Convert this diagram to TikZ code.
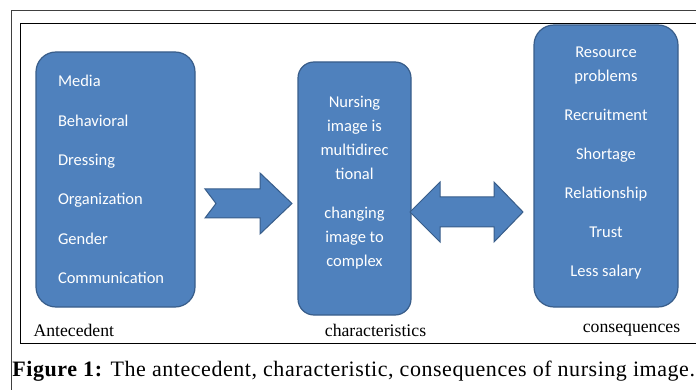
\documentclass[tikz,border=0pt]{standalone}
\usepackage{tikz}
\usepackage{xcolor}
\usepackage{fontspec}
\newfontfamily\boxfont{Carlito}
\newfontfamily\labelfont{Liberation Serif}
\newfontfamily\captionfont[LetterSpace=2.5]{Liberation Serif}
\definecolor{boxblue}{HTML}{4F81BD}
\definecolor{boxedge}{HTML}{385D8A}
\tikzset{
  bluebox/.style={draw=boxedge, fill=boxblue, line width=1.2pt, rounded corners=20pt,
    text=white, font=\boxfont\fontsize{16.5}{24}\selectfont, inner sep=0pt},
  boxtext/.style={text=white, font=\boxfont\fontsize{16.5}{24}\selectfont, inner sep=0pt,
    align=center},
  blockarrow/.style={draw=boxedge, fill=boxblue, line width=1pt},
  partlabel/.style={font=\labelfont\fontsize{17.7}{19}\selectfont, inner sep=0pt}
}

\begin{document}
\begin{tikzpicture}[x=1pt, y=-1pt, line width=1pt]
  \useasboundingbox (0,0) rectangle (696,390);
  % frames
  \draw[black!75] (11,400) -- (11,11) -- (710,11);
  \draw[black] (710,24) -- (20,24) -- (20,343) -- (710,343);
  % antecedent
  \node[bluebox, minimum width=159pt, minimum height=255pt, align=left, text width=115pt,
        font=\boxfont\fontsize{16.5}{39.4}\selectfont] (ante) at (115.5,179.5)
    {Media\\Behavioral\\Dressing\\Organization\\Gender\\Communication};
  \node[partlabel, anchor=west] (antelabel) at (33,330) {Antecedent};
  % characteristics
  \node[bluebox, rounded corners=16pt, minimum width=113pt, minimum height=253pt] (chara)
    at (354.5,188.5) {};
  \node[boxtext] (charatext) at (354.5,182.5)
    {Nursing\\image is\\multidirec\\tional\\[15pt]changing\\image to\\complex};
  \node[partlabel] (charalabel) at (375.5,330) {characteristics};
  % consequences
  \node[bluebox, minimum width=144pt, minimum height=282pt] (conse) at (606,166) {};
  \node[boxtext] (consetext) at (606,163)
    {Resource\\problems\\[15pt]Recruitment\\[15pt]Shortage\\[15pt]Relationship\\[15pt]Trust\\[15pt]Less salary};
  \node[partlabel] (conselabel) at (631.5,330) {consequences};
  % arrows
  \draw[blockarrow] (205,189) -- (260,189) -- (260,173) -- (292,203.5) -- (260,234)
        -- (260,218) -- (205,218) -- (216,203.5) -- cycle;
  \draw[blockarrow] (410,212) -- (440,182) -- (440,197) -- (494,197) -- (494,182)
        -- (523,212) -- (494,242) -- (494,227) -- (440,227) -- (440,242) -- cycle;
  % caption
  \node[anchor=west, inner sep=0pt, font=\captionfont\fontsize{22}{24}\selectfont] (caption) at (12,371)
    {\textbf{Figure 1:} The antecedent, characteristic, consequences of nursing image.};
\end{tikzpicture}
\end{document}
